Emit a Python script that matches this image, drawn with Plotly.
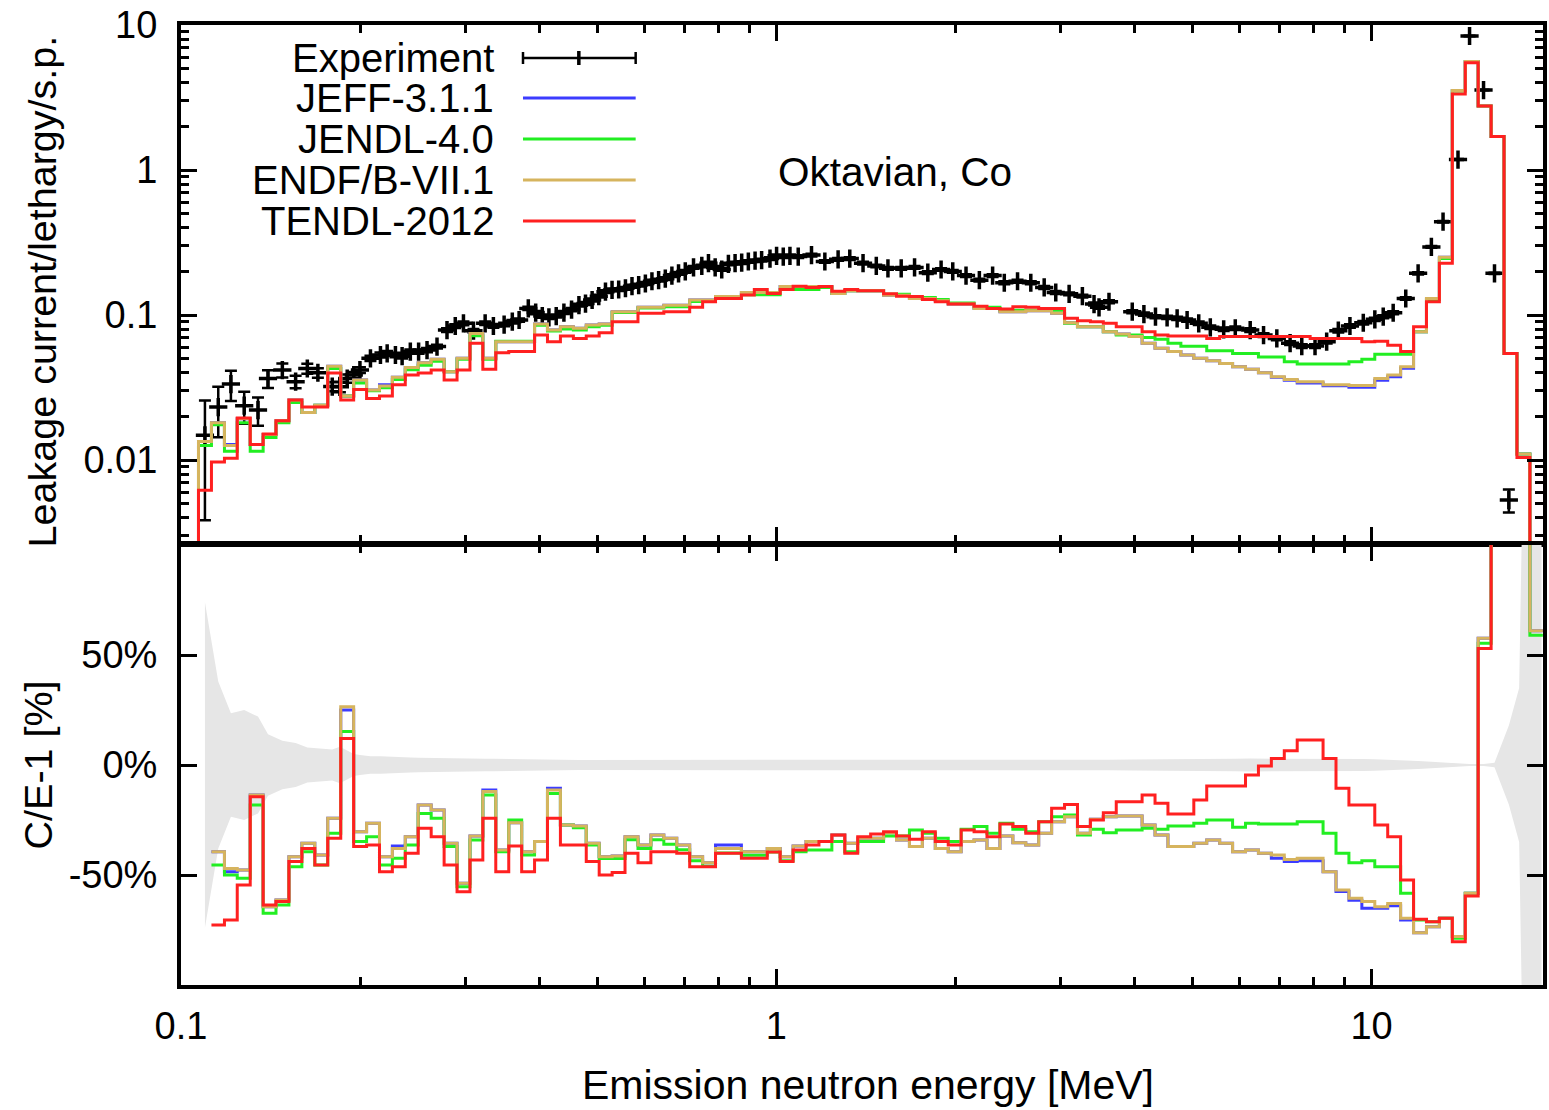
import math
import plotly.graph_objects as go
from plotly.subplots import make_subplots

# lower edges of the calculated energy bins [MeV] (last one closes the final bin)
bin_edges = [0.1070, 0.1125, 0.1183, 0.1243, 0.1307, 0.1374, 0.1444, 0.1518, 0.1596, 0.1678,
             0.1764, 0.1855, 0.1950, 0.2050, 0.2155, 0.2265, 0.2381, 0.2503, 0.2632, 0.2767,
             0.2909, 0.3058, 0.3214, 0.3379, 0.3553, 0.3735, 0.3926, 0.4127, 0.4339, 0.4562,
             0.4795, 0.5041, 0.5300, 0.5571, 0.5857, 0.6157, 0.6473, 0.6805, 0.7154, 0.7521,
             0.7906, 0.8312, 0.8738, 0.9186, 0.9657, 1.0152, 1.0672, 1.1220, 1.1795, 1.2399,
             1.3035, 1.3703, 1.4406, 1.5145, 1.5922, 1.6738, 1.7596, 1.8498, 1.9447, 2.0443,
             2.1492, 2.2593, 2.3752, 2.4970, 2.6250, 2.7595, 2.9011, 3.0498, 3.2061, 3.3705,
             3.5433, 3.7250, 3.9160, 4.1168, 4.3278, 4.5497, 4.7830, 5.0283, 5.2860, 5.5570,
             5.8420, 6.1415, 6.4564, 6.7874, 7.1354, 7.5012, 7.8859, 8.2901, 8.7153, 9.1621,
             9.6318, 10.126, 10.645, 11.190, 11.765, 12.367, 13.001, 13.668, 14.369, 15.105,
             15.880, 16.694, 17.550, 18.450, 19.400]

# leakage current per lethargy (top panel), one value per bin
jeff_flux = [0.0134, 0.0181, 0.0128, 0.0193, 0.0128, 0.0150, 0.0187, 0.0259, 0.0213, 0.0239,
             0.0443, 0.0277, 0.0356, 0.0304, 0.0330, 0.0372, 0.0435, 0.0469, 0.0495, 0.0407,
             0.0503, 0.0747, 0.0503, 0.0655, 0.0655, 0.0655, 0.0867, 0.0788, 0.0830, 0.0810,
             0.0853, 0.0867, 0.1054, 0.1054, 0.113, 0.113, 0.117, 0.117, 0.127, 0.127,
             0.134, 0.134, 0.143, 0.143, 0.143, 0.157, 0.157, 0.157, 0.157, 0.141,
             0.147, 0.147, 0.147, 0.137, 0.137, 0.130, 0.130, 0.1255, 0.119, 0.119,
             0.111, 0.111, 0.1054, 0.1054, 0.107, 0.107, 0.1027, 0.0885, 0.083, 0.083,
             0.0768, 0.074, 0.071, 0.064, 0.0589, 0.056, 0.053, 0.0503, 0.0484, 0.0464,
             0.044, 0.0422, 0.040, 0.0372, 0.0355, 0.0340, 0.0340, 0.0325, 0.0325, 0.0318,
             0.0318, 0.0355, 0.0375, 0.043, 0.0768, 0.130, 0.250, 3.53, 5.6, 2.76,
             1.70, 0.0544, 0.011]
jendl_flux = [0.0126, 0.0175, 0.0115, 0.0181, 0.0115, 0.0143, 0.0181, 0.0249, 0.0213, 0.0239,
              0.0428, 0.0277, 0.0340, 0.0300, 0.0315, 0.0360, 0.0420, 0.0450, 0.0480, 0.0407,
              0.0495, 0.0720, 0.0495, 0.0660, 0.0660, 0.0660, 0.0850, 0.0775, 0.0800, 0.0790,
              0.0830, 0.0850, 0.1040, 0.1040, 0.112, 0.112, 0.114, 0.114, 0.124, 0.124,
              0.130, 0.130, 0.138, 0.138, 0.138, 0.150, 0.150, 0.150, 0.155, 0.141,
              0.147, 0.147, 0.147, 0.139, 0.139, 0.132, 0.132, 0.128, 0.121, 0.121,
              0.113, 0.113, 0.108, 0.108, 0.108, 0.108, 0.108, 0.0877, 0.083, 0.083,
              0.0768, 0.0728, 0.0728, 0.070, 0.068, 0.064, 0.061, 0.061, 0.0567, 0.0567,
              0.0544, 0.0544, 0.0514, 0.0514, 0.0477, 0.046, 0.046, 0.046, 0.046, 0.0477,
              0.0495, 0.0536, 0.0536, 0.0536, 0.0768, 0.128, 0.245, 3.50, 5.6, 2.76,
              1.70, 0.0544, 0.011]
endf_flux = [0.0134, 0.0181, 0.0126, 0.0193, 0.0128, 0.0150, 0.0187, 0.0259, 0.0213, 0.0239,
             0.0443, 0.0277, 0.0356, 0.0304, 0.0324, 0.0372, 0.0435, 0.0469, 0.0495, 0.0407,
             0.0503, 0.0747, 0.0503, 0.0655, 0.0655, 0.0655, 0.0867, 0.0788, 0.0830, 0.0810,
             0.0853, 0.0867, 0.1054, 0.1054, 0.113, 0.113, 0.117, 0.117, 0.127, 0.127,
             0.134, 0.134, 0.143, 0.143, 0.143, 0.157, 0.157, 0.157, 0.157, 0.141,
             0.147, 0.147, 0.147, 0.137, 0.137, 0.130, 0.130, 0.1255, 0.119, 0.119,
             0.111, 0.111, 0.1054, 0.1054, 0.107, 0.107, 0.1027, 0.0885, 0.083, 0.083,
             0.0768, 0.074, 0.071, 0.064, 0.0589, 0.056, 0.053, 0.0503, 0.0484, 0.0464,
             0.044, 0.0422, 0.040, 0.0375, 0.036, 0.0347, 0.0347, 0.033, 0.033, 0.0327,
             0.0327, 0.0365, 0.0386, 0.044, 0.0768, 0.130, 0.250, 3.53, 5.6, 2.76,
             1.70, 0.0544, 0.011]
tendl_flux = [0.0062, 0.0097, 0.0103, 0.0195, 0.0128, 0.0151, 0.0187, 0.0259, 0.0232, 0.0232,
              0.0399, 0.0259, 0.0307, 0.0266, 0.0277, 0.0330, 0.0386, 0.0399, 0.0417, 0.0356,
              0.0417, 0.0638, 0.0422, 0.0550, 0.0560, 0.0560, 0.0728, 0.0655, 0.0716, 0.0690,
              0.0716, 0.0755, 0.0900, 0.0900, 0.1027, 0.1027, 0.1054, 0.1054, 0.113, 0.1235,
              0.130, 0.130, 0.1374, 0.150, 0.141, 0.150, 0.158, 0.155, 0.157, 0.146,
              0.150, 0.147, 0.147, 0.140, 0.135, 0.134, 0.128, 0.1235, 0.119, 0.119,
              0.115, 0.111, 0.110, 0.114, 0.113, 0.111, 0.111, 0.095, 0.0913, 0.090,
              0.0877, 0.083, 0.083, 0.0768, 0.0728, 0.0716, 0.0716, 0.0716, 0.069, 0.071,
              0.071, 0.071, 0.071, 0.071, 0.071, 0.071, 0.069, 0.069, 0.069, 0.069,
              0.0655, 0.066, 0.062, 0.056, 0.083, 0.1235, 0.228, 3.35, 5.5, 2.76,
              1.70, 0.0544, 0.0104]

# C/E-1 in percent (bottom panel), bins 2..104 (the first bin has no ratio)
jeff_ce = [-39.4, -48.5, -47.7, -13.6, -64.4, -61.4, -41.7, -35.6, -40.9, -24.2,
           25.0, -30.3, -26.5, -41.7, -36.8, -32.6, -18.2, -20.5, -35.6, -53.8,
           -32.3, -11.4, -38.6, -26.2, -39.4, -34.8, -10.6, -27.3, -27.7, -35.6,
           -41.7, -41.4, -32.6, -36.4, -31.8, -33.3, -36.4, -41.7, -44.4, -36.4,
           -36.4, -39.4, -39.4, -37.9, -41.7, -36.8, -34.8, -34.8, -31.8, -35.6,
           -33.3, -33.3, -30.8, -34.1, -37.1, -33.3, -37.9, -39.4, -34.8, -34.1,
           -37.9, -32.3, -35.3, -36.4, -31.0, -25.8, -23.5, -31.0, -24.7, -23.5,
           -23.2, -23.2, -27.3, -31.8, -37.1, -37.1, -35.6, -34.1, -35.6, -39.4,
           -38.6, -40.1, -42.4, -43.9, -43.5, -43.5, -48.5, -57.5, -61.5, -65.1,
           -65.1, -64.0, -70.4, -76.2, -73.5, -69.7, -78.0, -58.3, 57.6, 780,
           500, 110, 61]
jendl_ce = [-45.5, -50.0, -51.5, -18.2, -67.4, -63.6, -46.2, -39.4, -45.5, -31.0,
            15.2, -34.8, -32.6, -45.5, -42.4, -36.4, -22.0, -24.2, -37.1, -55.3,
            -34.1, -13.6, -39.4, -25.0, -40.9, -34.8, -12.9, -27.3, -28.5, -36.4,
            -42.5, -42.5, -34.0, -38.0, -34.0, -36.0, -38.5, -43.5, -46.0, -40.0,
            -40.0, -41.0, -41.0, -39.5, -43.5, -39.4, -38.6, -38.6, -34.8, -39.4,
            -34.8, -34.8, -32.3, -32.3, -29.5, -31.0, -33.3, -34.8, -29.2, -28.0,
            -31.0, -26.5, -29.2, -30.3, -25.8, -23.5, -22.7, -31.8, -29.2, -30.8,
            -29.5, -29.5, -28.8, -29.2, -27.7, -27.7, -26.5, -25.0, -25.0, -28.3,
            -26.5, -26.8, -26.8, -26.8, -25.8, -25.8, -31.0, -40.1, -44.4, -43.5,
            -46.2, -46.2, -58.3, -70.4, -71.2, -69.7, -78.8, -58.3, 55.3, 780,
            500, 110, 59]
endf_ce = [-39.4, -47.0, -47.7, -13.6, -64.4, -61.4, -41.7, -35.6, -40.9, -24.2,
           26.5, -30.3, -26.5, -41.7, -37.9, -32.6, -18.2, -20.5, -35.6, -53.8,
           -32.3, -12.1, -38.6, -26.2, -39.4, -34.8, -11.4, -27.3, -27.7, -35.6,
           -41.7, -41.4, -32.6, -36.4, -31.8, -33.3, -36.4, -41.7, -44.4, -37.9,
           -37.9, -39.4, -39.4, -37.9, -41.7, -36.8, -34.8, -34.8, -31.8, -35.6,
           -33.3, -33.3, -30.8, -34.1, -37.1, -33.3, -37.9, -39.4, -34.8, -34.1,
           -37.9, -32.3, -35.3, -36.4, -31.0, -25.8, -23.5, -31.0, -24.7, -23.5,
           -23.2, -23.2, -27.3, -31.8, -37.1, -37.1, -35.6, -34.1, -35.6, -39.4,
           -38.6, -40.1, -40.9, -42.9, -42.4, -42.4, -48.5, -56.8, -60.6, -62.1,
           -64.4, -62.9, -69.7, -76.2, -73.5, -69.7, -78.0, -58.3, 57.6, 780,
           500, 110, 61]
tendl_ce = [-72.7, -70.4, -54.5, -14.4, -63.6, -62.1, -43.9, -37.9, -45.5, -33.3,
            12.1, -37.1, -36.4, -48.5, -46.2, -40.1, -28.8, -32.6, -45.5, -57.6,
            -43.2, -24.2, -48.5, -36.8, -48.5, -43.2, -24.2, -36.4, -36.4, -43.9,
            -50.0, -48.9, -40.1, -44.4, -39.4, -39.4, -40.1, -46.2, -46.2, -40.1,
            -40.1, -42.4, -42.4, -39.5, -43.9, -38.6, -36.4, -34.8, -31.8, -40.1,
            -32.6, -31.4, -30.3, -32.3, -33.8, -30.3, -34.8, -36.4, -29.5, -30.3,
            -32.6, -26.8, -28.0, -31.0, -25.8, -19.7, -17.9, -28.0, -25.0, -21.7,
            -16.7, -16.7, -13.6, -17.4, -22.3, -22.3, -15.9, -9.5, -9.5, -9.5,
            -4.5, -0.5, 3.0, 6.5, 11.4, 11.4, 3.0, -10.6, -18.2, -18.2,
            -27.3, -32.6, -52.3, -70.1, -71.2, -69.7, -80.3, -59.5, 53.0, 780,
            500, 110, None]

# Oktavian measurement: energy [MeV], leakage current, relative uncertainty [%]
exp_energy = [0.1097, 0.1155, 0.1213, 0.1277, 0.1347, 0.1400, 0.1480, 0.1558, 0.1630, 0.1698,
              0.1795, 0.1849, 0.1902, 0.1951, 0.1998, 0.2081, 0.2163, 0.2220, 0.2292, 0.2352,
              0.2428, 0.2507, 0.2590, 0.2692, 0.2798, 0.2889, 0.2982, 0.3100, 0.3243, 0.3348,
              0.3490, 0.3602, 0.3698, 0.3832, 0.3943, 0.4045, 0.4150, 0.4269, 0.4398, 0.4530,
              0.4661, 0.4781, 0.4905, 0.5033, 0.5165, 0.5298, 0.5436, 0.5580, 0.5723, 0.5873,
              0.6027, 0.6182, 0.6344, 0.6510, 0.6678, 0.6852, 0.7033, 0.7261, 0.7497, 0.7693,
              0.7895, 0.8098, 0.8310, 0.8527, 0.8748, 0.8976, 0.9213, 0.9449, 0.9760, 1.0012,
              1.0274, 1.0543, 1.0886, 1.1460, 1.2067, 1.2702, 1.3289, 1.3988, 1.4724, 1.5403,
              1.6213, 1.7073, 1.7971, 1.8918, 1.9791, 2.0833, 2.1937, 2.3091, 2.4157, 2.5428,
              2.6766, 2.8189, 2.9479, 3.1042, 3.2676, 3.4184, 3.4849, 3.6219, 3.9628, 4.1455,
              4.3354, 4.5348, 4.7141, 4.8996, 5.1252, 5.3597, 5.6444, 5.9030, 6.2539, 6.5854,
              6.9323, 7.2977, 7.6346, 8.0362, 8.4064, 8.7940, 9.1983, 9.6853, 10.128, 10.462,
              10.873, 11.415, 11.974, 12.604, 13.186, 13.971, 14.610, 15.422, 16.090, 17.008,
              17.70, 18.39, 19.30]
exp_flux = [0.0148, 0.0232, 0.0334, 0.0237, 0.0221, 0.0365, 0.0417, 0.0347, 0.0428, 0.0400,
            0.0321, 0.0320, 0.0365, 0.0386, 0.0417, 0.0503, 0.0530, 0.0544, 0.0530, 0.0520,
            0.0560, 0.0560, 0.0573, 0.0606, 0.0788, 0.0840, 0.0877, 0.0780, 0.0877, 0.0840,
            0.0860, 0.0900, 0.0924, 0.1110, 0.1040, 0.0984, 0.0964, 0.0984, 0.1040, 0.1090,
            0.1170, 0.1200, 0.1270, 0.1350, 0.1450, 0.1490, 0.1500, 0.1530, 0.1580, 0.1610,
            0.1650, 0.1710, 0.1740, 0.1780, 0.1870, 0.1940, 0.2000, 0.2130, 0.2180, 0.2280,
            0.2130, 0.2060, 0.2250, 0.2280, 0.2300, 0.2340, 0.2370, 0.2390, 0.2450, 0.2560,
            0.2530, 0.2560, 0.2530, 0.2590, 0.2340, 0.2420, 0.2450, 0.2280, 0.2180, 0.2100,
            0.2100, 0.2130, 0.1960, 0.2060, 0.2000, 0.1870, 0.1740, 0.1870, 0.1670, 0.1710,
            0.1670, 0.1550, 0.1430, 0.1400, 0.1350, 0.1190, 0.1130, 0.1235, 0.1054, 0.1016,
            0.0974, 0.0964, 0.0949, 0.0924, 0.0877, 0.0823, 0.0797, 0.0810, 0.0788, 0.0728,
            0.0690, 0.0640, 0.0611, 0.0611, 0.0655, 0.0780, 0.0840, 0.0885, 0.0934, 0.0974,
            0.1037, 0.1300, 0.1940, 0.2950, 0.4400, 1.1800, 8.4000, 3.5600, 0.1940, 0.0053,
            0.0016, 0.0004, 0.0002]
exp_err_pct = [74, 38, 23.5, 25, 22, 14, 11, 10, 8, 7.5,
               7, 8.3, 6.5, 5, 4.5, 4, 4, 3.8, 3.6, 3.5,
               3.4, 3.3, 3.2, 3.1, 3.0, 3.0, 2.9, 2.9, 2.8, 2.8,
               2.7, 2.7, 2.6, 2.6, 2.5, 2.5, 2.5, 2.4, 2.4, 2.4,
               2.3, 2.3, 2.3, 2.3, 2.2, 2.2, 2.2, 2.2, 2.2, 2.2,
               2.2, 2.2, 2.2, 2.2, 2.2, 2.2, 2.1, 2.1, 2.1, 2.1,
               2.1, 2.1, 2.1, 2.1, 2.1, 2.1, 2.1, 2.1, 2.1, 2.1,
               2.1, 2.1, 2.1, 2.1, 2.1, 2.1, 2.1, 2.1, 2.1, 2.1,
               2.1, 2.1, 2.1, 2.1, 2.1, 2.1, 2.2, 2.2, 2.2, 2.2,
               2.2, 2.3, 2.3, 2.3, 2.3, 2.4, 2.4, 2.4, 2.5, 2.5,
               2.5, 2.6, 2.6, 2.6, 2.7, 2.7, 2.8, 2.8, 2.9, 2.9,
               3.0, 3.0, 3.0, 3.0, 3.0, 2.9, 2.8, 2.7, 2.6, 2.5,
               2.4, 2.1, 1.8, 1.5, 1.2, 0.8, 0.4, 0.4, 1.0, 18,
               35, 300, 400]

libraries = ["JEFF-3.1.1", "JENDL-4.0", "ENDF/B-VII.1", "TENDL-2012"]
flux_sets = [jeff_flux, jendl_flux, endf_flux, tendl_flux]
ce_sets = [jeff_ce, jendl_ce, endf_ce, tendl_ce]
colors = ["#3c3cff", "#22ee22", "#d6b45e", "#ff2020"]

zero_flux = 1e-4  # histograms rise from / fall back to zero outside the bins

W, H = 1549, 1110
ML, MR, MT, MB = 181, 2, 25, 125
FONT = "Liberation Sans, Arial, sans-serif"


def px(x):
    return (x - ML) / (W - ML - MR)


def py(y):
    return (H - MB - y) / (H - MT - MB)


fig = make_subplots(rows=2, cols=1, shared_xaxes=True)

# uncertainty band of the measurement around 0 %
fig.add_trace(go.Scatter(x=exp_energy, y=exp_err_pct, mode="lines", line=dict(width=0),
                         hoverinfo="skip"), row=2, col=1)
fig.add_trace(go.Scatter(x=exp_energy, y=[-e for e in exp_err_pct], mode="lines",
                         line=dict(width=0), fill="tonexty", fillcolor="#e6e6e6",
                         hoverinfo="skip"), row=2, col=1)

# measurement with error bars
err_up = [v * e / 100 for v, e in zip(exp_flux, exp_err_pct)]
err_dn = [v * min(e, 95) / 100 for v, e in zip(exp_flux, exp_err_pct)]
fig.add_trace(go.Scatter(
    x=exp_energy, y=exp_flux, mode="markers", name="Experiment",
    marker=dict(symbol="cross-thin", size=13, color="black", line=dict(width=3.5, color="black")),
    error_y=dict(type="data", array=err_up, arrayminus=err_dn, thickness=2.5, width=6,
                 color="black")), row=1, col=1)

top_x = [bin_edges[0]] + bin_edges[:len(tendl_flux) + 1]
bot_x = bin_edges[1:]
for name, flux, ce, col in zip(libraries, flux_sets, ce_sets, colors):
    fig.add_trace(go.Scatter(x=top_x, y=[zero_flux] + flux + [zero_flux], mode="lines", name=name,
                             line=dict(color=col, width=3, shape="hv")), row=1, col=1)
    fig.add_trace(go.Scatter(x=bot_x, y=ce + [ce[-1]], mode="lines", name=name,
                             line=dict(color=col, width=3, shape="hv")), row=2, col=1)

axis_style = dict(showline=True, linewidth=4, linecolor="black", mirror="ticks",
                  ticks="inside", ticklen=16, tickwidth=3, tickcolor="black",
                  showgrid=False, zeroline=False,
                  tickfont=dict(family=FONT, size=38, color="black"))

x_minor = [0.2, 0.3, 0.4, 0.5, 0.6, 0.7, 0.8, 0.9, 2, 3, 4, 5, 6, 7, 8, 9]
fig.update_xaxes(type="log", range=[-1, math.log10(19.41)],
                 tickvals=[0.1, 1, 10], ticktext=["0.1", "1", "10"], ticklabelstandoff=4,
                 minor=dict(tickvals=x_minor, ticks="inside", ticklen=8, tickwidth=3,
                            tickcolor="black"),
                 **axis_style)
fig.update_xaxes(showticklabels=False, row=1, col=1)

y_minor = [0.003, 0.004, 0.005, 0.006, 0.007, 0.008, 0.009,
           0.02, 0.03, 0.04, 0.05, 0.06, 0.07, 0.08, 0.09,
           0.2, 0.3, 0.4, 0.5, 0.6, 0.7, 0.8, 0.9,
           2, 3, 4, 5, 6, 7, 8, 9]
fig.update_yaxes(type="log", range=[-2.572, 1], domain=[py(543), 1.0],
                 tickvals=[0.01, 0.1, 1, 10], ticktext=["0.01", "0.1", "1", "10"],
                 ticklabelstandoff=12,
                 minor=dict(tickvals=y_minor, ticks="inside", ticklen=8, tickwidth=3,
                            tickcolor="black"),
                 row=1, col=1, **axis_style)
fig.update_yaxes(range=[-100, 100], domain=[0.0, py(545)],
                 tickvals=[-50, 0, 50], ticktext=["-50%", "0%", "50%"],
                 ticklabelstandoff=12, row=2, col=1, **axis_style)

annotations = [
    dict(text="Emission neutron energy [MeV]", x=px(870), y=py(1085), size=41),
    dict(text="Leakage current/lethargy/s.p.", x=px(42), y=py(291), textangle=-90, size=39.5),
    dict(text="C/E-1 [%]", x=px(38), y=py(765), textangle=-90, size=39.5),
    dict(text="Oktavian, Co", x=px(897), y=py(172), size=40.5),
]
legend_rows = [58, 98, 139, 180, 221]
for label, row in zip(["Experiment"] + libraries, legend_rows):
    annotations.append(dict(text=label, x=px(497), y=py(row), xanchor="right", size=40))

shapes = []
for col, row in zip(colors, legend_rows[1:]):
    shapes.append(dict(type="line", xref="paper", yref="paper", x0=px(524), x1=px(637),
                       y0=py(row), y1=py(row), line=dict(color=col, width=3)))
r0 = legend_rows[0]
shapes.append(dict(type="line", xref="paper", yref="paper", x0=px(524), x1=px(637),
                   y0=py(r0), y1=py(r0), line=dict(color="black", width=2.5)))
for xx, half in [(524, 6), (637, 6), (580, 7)]:
    shapes.append(dict(type="line", xref="paper", yref="paper", x0=px(xx), x1=px(xx),
                       y0=py(r0 - half), y1=py(r0 + half),
                       line=dict(color="black", width=3.5 if xx == 580 else 2.5)))

fig.update_layout(
    width=W, height=H, margin=dict(l=ML, r=MR, t=MT, b=MB),
    plot_bgcolor="white", paper_bgcolor="white", showlegend=False,
    font=dict(family=FONT, size=39, color="black"),
    annotations=[dict(text=a["text"], x=a["x"], y=a["y"], textangle=a.get("textangle", 0),
                      xref="paper", yref="paper", showarrow=False,
                      xanchor=a.get("xanchor", "center"), yanchor="middle",
                      font=dict(family=FONT, size=a["size"], color="black"))
                 for a in annotations],
    shapes=shapes,
)

# the page body keeps no default margin so the figure fills the window exactly
fig.write_html("out.html", config={"displayModeBar": False},
               post_script="document.body.style.margin='0';")
